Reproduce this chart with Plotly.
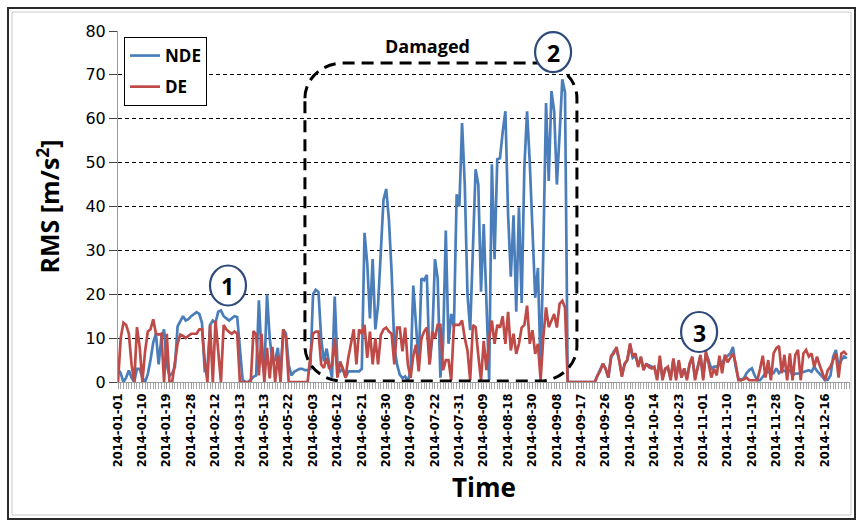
import plotly.graph_objects as go

# Category tick labels (one every 9 samples)
TICK_LABELS = [
    "2014-01-01", "2014-01-10", "2014-01-19", "2014-01-28", "2014-02-12",
    "2014-03-13", "2014-05-13", "2014-05-22", "2014-06-03", "2014-06-12",
    "2014-06-21", "2014-06-30", "2014-07-09", "2014-07-22", "2014-07-31",
    "2014-08-09", "2014-08-18", "2014-08-30", "2014-09-08", "2014-09-17",
    "2014-09-26", "2014-10-05", "2014-10-14", "2014-10-23", "2014-11-01",
    "2014-11-10", "2014-11-19", "2014-11-28", "2014-12-07", "2014-12-16",
]
LABEL_EVERY = 9

# RMS acceleration, non-drive end bearing [m/s^2]
NDE = [
    3, 2, 0, 1, 2.6, 1, 0, 3, 3, 1,
    0, 1.8, 5, 9, 11, 4, 10, 12, 4, 1.4,
    2, 3.4, 12.7, 14, 15, 14, 14.3, 15, 15.5, 15.9,
    15.5, 13.5, 2.6, 3, 13, 14, 13.5, 16, 16.3, 15,
    14.5, 14, 14.5, 15, 14.8, 7.8, 0.5, 0, 0, 0.5,
    1.2, 1.5, 18.6, 6, 1.5, 20, 10, 4.6, 5, 7.8,
    1.5, 12, 11, 4, 1.5, 2.3, 2.7, 3, 3, 2.7,
    2.7, 3, 20, 21, 20.5, 10, 4.7, 7.6, 4, 1,
    19.5, 4, 2.4, 3, 1, 2.4, 2.4, 2.4, 2.4, 2.4,
    3, 34, 27, 14.5, 28, 12, 17.6, 30, 41.5, 44,
    37, 25, 8, 4, 1.7, 0.9, 1.3, 0.2, 2.4, 22,
    12, 4, 23.6, 23.2, 24.4, 4, 10, 28, 23.6, 1,
    8.7, 34.5, 8.7, 15.5, 12.5, 42.8, 40, 59, 45, 20,
    11.8, 30, 48.5, 45, 20.6, 36, 20, 0.4, 49.6, 28,
    50.8, 51, 57, 61.7, 38, 24, 38, 16, 39.8, 18,
    49, 61.7, 50, 36, 19.2, 26, 2.6, 30, 63.6, 45.8,
    66.3, 61.7, 45, 56.4, 69, 66, 0, 0, 0, 0,
    0, 0, 0, 0, 0, 0, 0, 1.5, 3, 4.2,
    3, 1, 5.5, 7, 7.5, 5, 1.5, 4, 5, 8.5,
    5.5, 6, 3.8, 5.5, 3, 4, 3.8, 3.5, 3.2, 1,
    5, 1, 3, 3, 1, 5, 1, 4.5, 1, 3,
    1, 4, 5.5, 1, 3.5, 6, 1, 6.5, 5, 3,
    3.5, 3.5, 4, 4.5, 5.4, 6, 6.5, 8, 3.5, 0.8,
    0.4, 0.8, 2, 2.7, 3.1, 1.5, 0.4, 0.4, 1.2, 2,
    2.3, 2, 2, 3.1, 2, 2.7, 2.5, 2.3, 2.7, 1.5,
    1.9, 2, 2, 2.3, 2.5, 2.7, 2.3, 3.5, 2.5, 1.9,
    1.2, 0.4, 0.5, 1.5, 5.8, 7.3, 3.5, 5, 5.8, 5.4,
]

# RMS acceleration, drive end bearing [m/s^2]
DE = [
    0, 10, 13.5, 13, 11, 4, 0, 12.5, 8, 0,
    7, 11.5, 12, 14.3, 11, 10.8, 11, 0, 11, 0,
    0, 4, 8.8, 10.8, 10.5, 10, 10.5, 11, 11, 11,
    12, 12, 5, 0, 13, 0, 14, 7, 0, 13,
    12, 11.4, 11, 11.5, 11, 0, 0, 0, 0, 0,
    11.6, 10.8, 1.5, 11, 0, 7.8, 0.8, 8, 0, 6,
    0, 12, 10, 0, 0, 0, 0, 0, 0, 0,
    0, 6, 11, 11.5, 11.5, 4, 3.2, 5.5, 3, 4,
    10, 1, 4.7, 3, 1, 5.5, 9, 12, 4, 12,
    11, 13, 5.5, 11.5, 4, 10, 4, 10.7, 12, 12.4,
    11.5, 11, 4, 12.4, 12.4, 7, 12.4, 4, 0.9, 6,
    8.5, 2.4, 10, 11.5, 12.4, 4, 11.5, 10, 13, 13,
    2.7, 5, 5, 0.4, 13, 13, 13, 14, 10, 7.2,
    0.4, 13, 12.5, 6, 0.4, 9.4, 2.7, 10, 14, 8.7,
    13, 12.4, 15, 8.7, 16, 7.2, 11, 6.4, 8.7, 12.4,
    13, 17.4, 8.7, 11.8, 6.4, 8.7, 0.4, 10.2, 17, 12.5,
    14, 15.5, 12.4, 17.8, 18.5, 17, 0, 0, 0, 0,
    0, 0, 0, 0, 0, 0, 0, 1.5, 2.5, 4.2,
    3, 1, 6, 6.5, 8, 5, 1.2, 4.2, 5, 8.8,
    5.8, 6.5, 3.4, 5.8, 2.7, 4.2, 3.4, 3.1, 3.5, 0.4,
    6, 0.4, 3, 3.5, 0.4, 5.4, 0.4, 5, 1, 3.1,
    0.4, 4.2, 5.8, 0.4, 3.4, 6.2, 0.4, 7, 4.2, 1,
    3, 1.5, 6, 2, 6.2, 4.5, 5.5, 6.5, 4.2, 0.4,
    0.4, 0.6, 1, 0.4, 0.4, 0.4, 0.4, 3, 6, 1,
    5, 0.4, 6.5, 7.7, 8.2, 2, 6.2, 0.4, 6.5, 0.4,
    6.2, 7.3, 0.4, 6.5, 7.3, 5.8, 6.5, 3.4, 5.8, 3.8,
    1.9, 0.4, 2.7, 3.5, 5, 6.4, 1, 6.5, 6.9, 6.2,
]

# Damaged period (sample index range) and circled event markers
DAMAGED_START, DAMAGED_END, DAMAGED_TOP = 69, 169.4, 72.7
MARKERS = [("1", 40.6, 22.0), ("2", 160.6, 75.2), ("3", 214.5, 11.4)]

W, H = 859, 523
ML, MR, MT, MB = 118, 9, 31, 141
PW, PH = W - ML - MR, H - MT - MB

NDE_COLOR = "#4A7EBB"
DE_COLOR = "#BE4B48"
TITLE_FONT = "Open Sans"
TICK_FONT = "DejaVu Sans"

x = list(range(len(NDE)))

fig = go.Figure()
fig.add_trace(go.Scatter(x=x, y=NDE, mode="lines", name="NDE", legendgroup="nde",
                         line=dict(color=NDE_COLOR, width=2.7)))
fig.add_trace(go.Scatter(x=x, y=DE, mode="lines", name="DE", legendgroup="de",
                         line=dict(color=DE_COLOR, width=2.7)))


def px_x(p):
    return (p - ML) / PW


def px_y(p):
    return (H - MB - p) / PH


shapes = []

# chart frame
shapes.append(dict(type="rect", xref="paper", yref="paper",
                   x0=px_x(8), x1=px_x(855), y0=px_y(519), y1=px_y(8),
                   line=dict(color="#2b2b2b", width=2), layer="below"))
shapes.append(dict(type="rect", xref="paper", yref="paper",
                   x0=px_x(12), x1=px_x(851), y0=px_y(515), y1=px_y(12),
                   line=dict(color="#c8c8c8", width=1), layer="below"))

# rounded dashed box around the damaged period
x0, x1, y0, y1 = DAMAGED_START, DAMAGED_END, 0.2, DAMAGED_TOP
rx, ry, k = 14.0, 8.0, 0.55
path = (
    f"M {x0},{y1 - ry} "
    f"C {x0},{y1 - ry + k * ry} {x0 + rx - k * rx},{y1} {x0 + rx},{y1} "
    f"L {x1 - rx},{y1} "
    f"C {x1 - rx + k * rx},{y1} {x1},{y1 - ry + k * ry} {x1},{y1 - ry} "
    f"L {x1},{y0 + ry} "
    f"C {x1},{y0 + ry - k * ry} {x1 - rx + k * rx},{y0} {x1 - rx},{y0} "
    f"L {x0 + rx},{y0} "
    f"C {x0 + rx - k * rx},{y0} {x0},{y0 + ry - k * ry} {x0},{y0 + ry} Z"
)
shapes.append(dict(type="path", xref="x", yref="y", path=path,
                   line=dict(color="black", width=3, dash="12px,7px"), layer="above"))

annotations = [
    dict(x=114.4, y=76.6, xref="x", yref="y", text="<b>Damaged</b>", showarrow=False,
         font=dict(family=TITLE_FONT, size=18, color="black")),
]

for label, mx, my in MARKERS:
    shapes.append(dict(type="circle", xref="x", yref="y",
                       xsizemode="pixel", ysizemode="pixel",
                       xanchor=mx, yanchor=my, x0=-18, x1=18, y0=-20, y1=20,
                       fillcolor="white", line=dict(color="#2E4A7A", width=2.2),
                       layer="above"))
    annotations.append(dict(x=mx, y=my, xref="x", yref="y", text=f"<b>{label}</b>",
                            showarrow=False, yshift=-1,
                            font=dict(family=TITLE_FONT, size=23, color="black")))

tickvals = x[::LABEL_EVERY][:len(TICK_LABELS)]

fig.update_layout(
    width=W, height=H,
    margin=dict(l=ML, r=MR, t=MT, b=MB, autoexpand=False),
    paper_bgcolor="white", plot_bgcolor="white",
    showlegend=True,
    legend=dict(x=px_x(124), y=px_y(37), xanchor="left", yanchor="top",
                bgcolor="white", bordercolor="black", borderwidth=1,
                traceorder="grouped", tracegroupgap=6, itemwidth=30,
                font=dict(family=TITLE_FONT, size=17, color="black", weight="bold")),
    xaxis=dict(
        range=[0, 270.2], tickmode="array", tickvals=tickvals, ticktext=TICK_LABELS,
        tickangle=-90, ticks="outside", ticklen=6, tickcolor="#9a9a9a",
        showline=True, linecolor="#9a9a9a", linewidth=1,
        showgrid=False, zeroline=False,
        tickfont=dict(family=TICK_FONT, size=11.5, color="black", weight="bold"),
        minor=dict(tick0=0, dtick=1, ticks="outside", ticklen=6,
                   tickcolor="#a8a8a8", showgrid=False),
        title=dict(text="<b>Time</b>", standoff=12,
                   font=dict(family=TITLE_FONT, size=26, color="black")),
    ),
    yaxis=dict(
        range=[0, 80], tick0=0, dtick=10,
        showgrid=True, gridcolor="black", gridwidth=1, griddash="4px,3px",
        ticks="outside", ticklen=8, tickcolor="#444",
        showline=True, linecolor="#9a9a9a", linewidth=1, zeroline=False,
        tickfont=dict(family=TICK_FONT, size=16, color="black"),
        title=dict(text="<b>RMS [m/s<sup>2</sup>]</b>", standoff=18,
                   font=dict(family=TITLE_FONT, size=25, color="black")),
    ),
    shapes=shapes,
    annotations=annotations,
)

fig.write_html("out.html")
